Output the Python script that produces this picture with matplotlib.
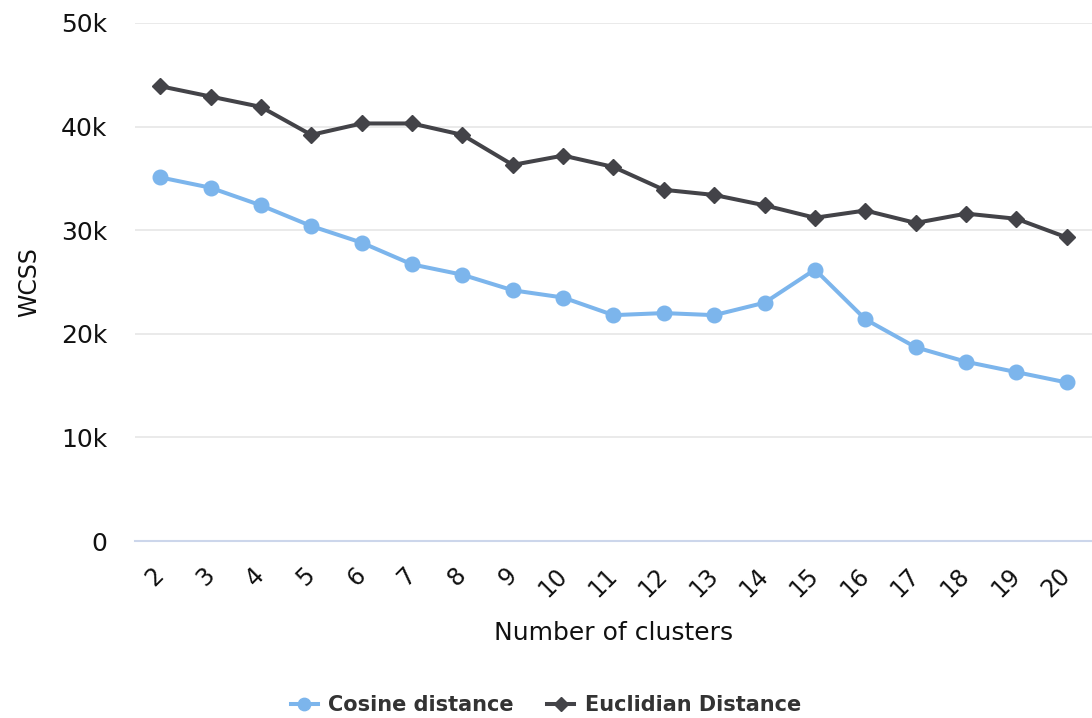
import matplotlib
matplotlib.use('Agg')
import matplotlib.pyplot as plt
from matplotlib.ticker import FuncFormatter

# data
clusters = list(range(2, 21))
cosine = [35.1, 34.1, 32.4, 30.4, 28.8, 26.7, 25.7, 24.2, 23.5, 21.8,
          22.0, 21.8, 23.0, 26.2, 21.4, 18.7, 17.3, 16.3, 15.3]
euclid = [43.9, 42.9, 41.9, 39.2, 40.3, 40.3, 39.2, 36.3, 37.2, 36.1,
          33.9, 33.4, 32.4, 31.2, 31.9, 30.7, 31.6, 31.1, 29.3]
cosine = [v * 1000 for v in cosine]
euclid = [v * 1000 for v in euclid]
y_ticks = [0, 10000, 20000, 30000, 40000, 50000]

plt.rcParams['font.family'] = 'DejaVu Sans'

fig = plt.figure(figsize=(10.92, 7.18), dpi=100)
ax = fig.add_axes([0.1236, 0.2465, 0.8764, 0.7215])

ax.plot(clusters, cosine, color='#7cb5ec', lw=2.9, marker='o', ms=10.5,
        label='Cosine distance', zorder=3)
ax.plot(clusters, euclid, color='#434348', lw=2.9, marker='D', ms=8.5,
        label='Euclidian Distance', zorder=3)

ax.set_xlim(1.5, 20.5)
ax.set_ylim(0, 50000)
ax.set_yticks(y_ticks)
ax.yaxis.set_major_formatter(FuncFormatter(lambda v, p: '0' if v == 0 else f'{int(v/1000)}k'))
ax.set_xticks(clusters)
ax.set_xticklabels([str(c) for c in clusters], rotation=45, ha='right',
                   va='center', rotation_mode='anchor')

ax.grid(axis='y', color='#e6e6e6', lw=1.2)
ax.set_axisbelow(True)
for s in ['top', 'right', 'left']:
    ax.spines[s].set_visible(False)
ax.spines['bottom'].set_color('#ccd6eb')
ax.spines['bottom'].set_linewidth(1.5)
ax.tick_params(axis='y', length=0, pad=20, labelsize=18, labelcolor='#111111')
ax.tick_params(axis='x', length=0, pad=22, labelsize=17, labelcolor='#111111')

ax.set_ylabel('WCSS', fontsize=17, color='#111111', labelpad=14)
ax.set_xlabel('Number of clusters', fontsize=18, color='#111111', labelpad=14)

fig.legend(loc='center', bbox_to_anchor=(0.5, 0.018), ncol=2, frameon=False,
           prop={'weight': 'bold', 'size': 15}, labelcolor='#333333',
           handlelength=1.3, columnspacing=1.6, handletextpad=0.5,
           markerscale=0.85)

fig.savefig('out.png', dpi=100, facecolor='white')
